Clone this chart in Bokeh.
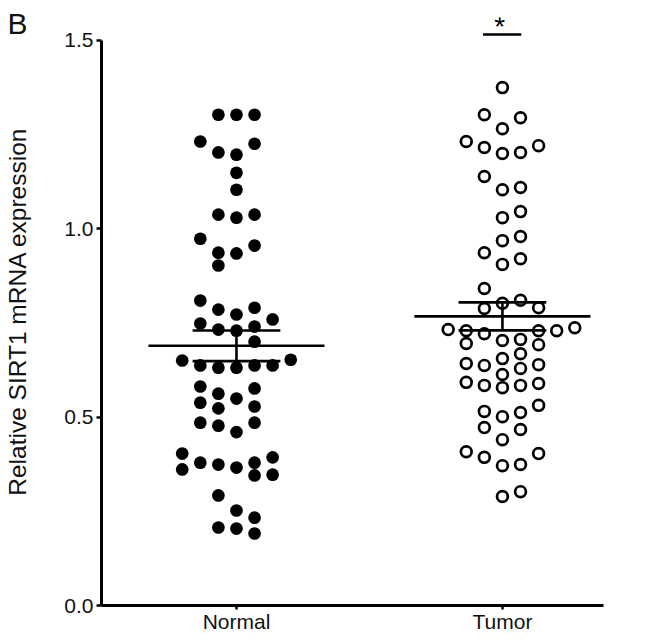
import numpy as np
from bokeh.plotting import figure
from bokeh.models import FixedTicker, Range1d, ColumnDataSource
from bokeh.embed import file_html
from bokeh.resources import INLINE
from bokeh.core.properties import value

# ---------------- data ----------------
categories = ["Normal", "Tumor"]

normal_values = [
    1.302, 1.302, 1.302, 1.231, 1.202, 1.196, 1.225, 1.148, 1.103,
    1.037, 1.029, 1.037, 0.973, 0.955, 0.936, 0.934, 0.902,
    0.785, 0.790, 0.809, 0.772, 0.759, 0.748, 0.732, 0.729, 0.740, 0.700,
    0.650, 0.637, 0.631, 0.631, 0.637, 0.637, 0.652,
    0.576, 0.581, 0.562, 0.549, 0.528, 0.523, 0.538,
    0.485, 0.477, 0.485, 0.460,
    0.403, 0.393, 0.379, 0.374, 0.361, 0.345, 0.347, 0.366, 0.379,
    0.292, 0.252, 0.233, 0.207, 0.191, 0.204,
]

tumor_values = [
    1.374, 1.294, 1.302, 1.265, 1.231, 1.215, 1.199, 1.202, 1.220,
    1.138, 1.109, 1.103,
    1.029, 1.045, 0.979, 0.968, 0.936, 0.905, 0.920, 0.841,
    0.802, 0.810, 0.788, 0.790,
    0.737, 0.732, 0.729, 0.721, 0.729, 0.729, 0.703, 0.692, 0.695, 0.706,
    0.668, 0.642, 0.639, 0.629, 0.637, 0.655, 0.613,
    0.592, 0.584, 0.578, 0.584, 0.589,
    0.531, 0.512, 0.501, 0.515, 0.472, 0.467, 0.440,
    0.403, 0.374, 0.371, 0.393, 0.408, 0.289, 0.302,
]

y_ticks = [0.0, 0.5, 1.0, 1.5]
y_tick_labels = ["0.0", "0.5", "1.0", "1.5"]
y_axis_title = "Relative SIRT1 mRNA expression"
panel_label = "B"
significance_mark = "*"

# ---------------- layout helpers ----------------
FONT = "Liberation Sans"
SLOT = 0.068          # horizontal spacing between dot columns (x units)
ROW_H = 0.040         # value span grouped into one swarm row
MIN_GAP = 0.034       # vertical gap needed between dots in same column


def swarm_slots(vals, first_side):
    vals = np.asarray(vals, dtype=float)
    order = np.argsort(-vals, kind="stable")
    rows, cur = [], []
    for i in order:
        if cur and vals[cur[0]] - vals[i] >= ROW_H:
            rows.append(cur)
            cur = []
        cur.append(i)
    if cur:
        rows.append(cur)
    slots = np.zeros(len(vals))
    placed = []  # (slot, value)

    def seq(k):
        if k == 0:
            return 0
        m = (k + 1) // 2
        return m * (first_side if k % 2 == 1 else -first_side)

    for row in rows:
        used = set()
        for i in sorted(row, key=lambda j: vals[j]):
            k = 0
            while True:
                s = seq(k)
                clash = s in used or any(
                    ps == s and abs(pv - vals[i]) < MIN_GAP for ps, pv in placed
                )
                if not clash:
                    break
                k += 1
            used.add(s)
            placed.append((s, vals[i]))
            slots[i] = s
    return slots


groups = [
    (normal_values, 1, -1),
    (tumor_values, 2, 1),
]

p = figure(
    width=638, height=636,
    x_range=Range1d(0.4925, 2.38), y_range=Range1d(0, 1.56),
    output_backend="svg", toolbar_location=None,
    min_border_left=101, min_border_right=35,
    min_border_top=17, min_border_bottom=31,
    title=panel_label,
)
p.outline_line_color = None
p.xgrid.visible = False
p.ygrid.visible = False

# panel letter "B" drawn as the title, pulled to the top-left corner
p.title.align = "left"
p.title.vertical_align = "bottom"
p.title.offset = -94
p.title.standoff = -44
p.title.text_font = FONT
p.title.text_font_size = "30px"
p.title.text_font_style = "normal"
p.title.text_color = "#111111"

stats = []
for vals, cx, side in groups:
    slots = swarm_slots(vals, side)
    xs = cx + slots * SLOT
    src = ColumnDataSource(dict(x=xs, y=vals))
    if cx == 1:
        p.scatter("x", "y", source=src, marker="circle", size=12.7,
                  fill_color="black", line_color=None)
    else:
        p.scatter("x", "y", source=src, marker="circle", size=10.8,
                  fill_color="white", line_color="black", line_width=2.7)
    arr = np.asarray(vals)
    m = arr.mean()
    sem = arr.std(ddof=1) / np.sqrt(len(arr))
    stats.append((cx, m, sem))

MEAN_HW = 0.331
SEM_HW = 0.165
for cx, m, sem in stats:
    p.segment(x0=[cx - MEAN_HW], y0=[m], x1=[cx + MEAN_HW], y1=[m],
              line_color="black", line_width=2.6)
    p.segment(x0=[cx - SEM_HW, cx - SEM_HW, cx], y0=[m + sem, m - sem, m - sem],
              x1=[cx + SEM_HW, cx + SEM_HW, cx], y1=[m + sem, m - sem, m + sem],
              line_color="black", line_width=2.6)

# significance marker above Tumor
sig_y = 1.515
p.segment(x0=[2 - 0.073], y0=[sig_y], x1=[2 + 0.071], y1=[sig_y],
          line_color="black", line_width=2.6)
p.text(x=[1.99], y=[1.535], text=[significance_mark], text_font=value(FONT),
       text_font_size="28px", text_align="center", text_baseline="alphabetic",
       text_color="black")

# axes
p.yaxis.ticker = FixedTicker(ticks=y_ticks)
p.yaxis.major_label_overrides = {t: l for t, l in zip(y_ticks, y_tick_labels)}
p.yaxis.bounds = (0, 1.5)
p.xaxis.ticker = FixedTicker(ticks=[1, 2])
p.xaxis.major_label_overrides = {i + 1: c for i, c in enumerate(categories)}

for ax in (p.xaxis[0], p.yaxis[0]):
    ax.axis_line_width = 3
    ax.axis_line_color = "black"
    ax.major_tick_line_width = 2.5
    ax.major_tick_line_color = "black"
    ax.major_tick_in = 0
    ax.minor_tick_out = 0
    ax.minor_tick_in = 0
    ax.major_label_text_font = FONT
    ax.major_label_text_font_size = "21px"
    ax.major_label_text_color = "#111111"

p.yaxis.major_tick_out = 5
p.yaxis.major_label_standoff = 3
p.xaxis.major_tick_out = 4
p.xaxis.major_label_standoff = 0

p.yaxis.axis_label = y_axis_title
p.yaxis.axis_label_text_font = FONT
p.yaxis.axis_label_text_font_size = "24.5px"
p.yaxis.axis_label_text_font_style = "normal"
p.yaxis.axis_label_text_color = "#111111"
p.yaxis.axis_label_standoff = 30

open("out.html", "w").write(file_html(p, INLINE))
